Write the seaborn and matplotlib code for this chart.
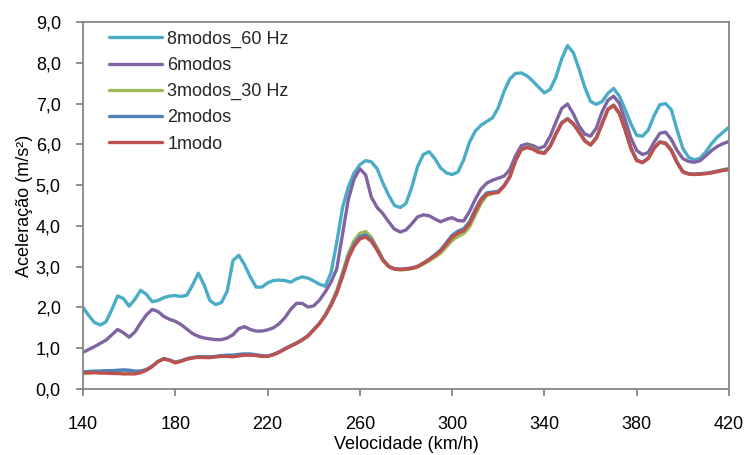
import numpy as np
import pandas as pd
import matplotlib
matplotlib.use("Agg")
import matplotlib.pyplot as plt
import seaborn as sns

# Speed axis (km/h), sampled every 2.5 km/h
speed = np.arange(140.0, 420.01, 2.5)

modos8_60hz = [
    2.00, 1.80, 1.63, 1.57, 1.65, 1.95, 2.28, 2.22, 2.03, 2.20,
    2.42, 2.32, 2.14, 2.17, 2.24, 2.28, 2.29, 2.27, 2.30, 2.55,
    2.84, 2.55, 2.17, 2.07, 2.12, 2.40, 3.15, 3.28, 3.05, 2.75,
    2.50, 2.50, 2.60, 2.66, 2.67, 2.66, 2.62, 2.70, 2.75, 2.72,
    2.65, 2.57, 2.52, 2.85, 3.60, 4.45, 4.95, 5.30, 5.50, 5.60,
    5.57, 5.40, 5.05, 4.75, 4.50, 4.45, 4.55, 4.95, 5.45, 5.75,
    5.82, 5.65, 5.42, 5.30, 5.26, 5.32, 5.62, 6.05, 6.32, 6.47,
    6.56, 6.65, 6.90, 7.30, 7.60, 7.74, 7.75, 7.68, 7.55, 7.40,
    7.26, 7.35, 7.65, 8.10, 8.42, 8.25, 7.85, 7.40, 7.05, 6.98,
    7.05, 7.25, 7.37, 7.18, 6.85, 6.50, 6.22, 6.20, 6.35, 6.70,
    6.97, 7.00, 6.85, 6.35, 5.90, 5.68, 5.62, 5.66, 5.82, 6.02,
    6.18, 6.30, 6.42,
]

modos6 = [
    0.90, 0.97, 1.04, 1.12, 1.20, 1.33, 1.46, 1.38, 1.27, 1.40,
    1.62, 1.82, 1.95, 1.90, 1.78, 1.71, 1.66, 1.58, 1.47, 1.36,
    1.29, 1.25, 1.23, 1.21, 1.21, 1.25, 1.33, 1.48, 1.53, 1.46,
    1.42, 1.42, 1.45, 1.50, 1.60, 1.75, 1.95, 2.10, 2.10, 2.01,
    2.04, 2.18, 2.38, 2.62, 2.95, 3.80, 4.65, 5.15, 5.40, 5.25,
    4.70, 4.45, 4.30, 4.10, 3.92, 3.85, 3.90, 4.05, 4.22, 4.27,
    4.25, 4.17, 4.10, 4.16, 4.20, 4.13, 4.12, 4.35, 4.65, 4.90,
    5.05, 5.12, 5.17, 5.22, 5.38, 5.72, 5.97, 6.01, 5.97, 5.90,
    5.95, 6.20, 6.55, 6.88, 6.99, 6.75, 6.45, 6.25, 6.20, 6.40,
    6.80, 7.08, 7.18, 7.00, 6.60, 6.15, 5.85, 5.75, 5.80, 6.05,
    6.27, 6.30, 6.12, 5.85, 5.65, 5.58, 5.56, 5.60, 5.72, 5.85,
    5.95, 6.02, 6.07,
]

modos3_30hz = [
    0.38, 0.39, 0.41, 0.42, 0.43, 0.44, 0.45, 0.45, 0.44, 0.42,
    0.43, 0.47, 0.56, 0.68, 0.75, 0.71, 0.65, 0.69, 0.74, 0.77,
    0.78, 0.78, 0.78, 0.79, 0.81, 0.81, 0.80, 0.82, 0.84, 0.84,
    0.83, 0.81, 0.80, 0.84, 0.90, 0.98, 1.05, 1.12, 1.20, 1.30,
    1.45, 1.61, 1.82, 2.09, 2.42, 2.86, 3.32, 3.64, 3.82, 3.86,
    3.72, 3.46, 3.18, 3.01, 2.94, 2.92, 2.93, 2.95, 2.99, 3.06,
    3.14, 3.23, 3.33, 3.48, 3.64, 3.74, 3.81, 3.97, 4.26, 4.55,
    4.74, 4.80, 4.84, 4.98, 5.20, 5.60, 5.88, 5.94, 5.90, 5.82,
    5.80, 5.96, 6.26, 6.53, 6.63, 6.51, 6.31, 6.09, 5.99, 6.16,
    6.51, 6.86, 6.96, 6.76, 6.36, 5.91, 5.61, 5.56, 5.66, 5.91,
    6.06, 6.03, 5.86, 5.56, 5.33, 5.28, 5.27, 5.28, 5.29, 5.32,
    5.35, 5.38, 5.41,
]

modos2 = [
    0.42, 0.43, 0.44, 0.44, 0.45, 0.45, 0.46, 0.47, 0.46, 0.44,
    0.44, 0.48, 0.56, 0.67, 0.74, 0.71, 0.66, 0.69, 0.74, 0.77,
    0.79, 0.79, 0.79, 0.80, 0.82, 0.83, 0.83, 0.85, 0.86, 0.86,
    0.84, 0.82, 0.81, 0.85, 0.91, 0.99, 1.06, 1.13, 1.21, 1.31,
    1.46, 1.61, 1.81, 2.07, 2.38, 2.80, 3.25, 3.55, 3.74, 3.78,
    3.66, 3.43, 3.17, 3.01, 2.95, 2.94, 2.95, 2.97, 3.01, 3.09,
    3.18, 3.29, 3.41, 3.59, 3.77, 3.87, 3.93, 4.10, 4.40, 4.66,
    4.81, 4.83, 4.85, 4.99, 5.22, 5.62, 5.88, 5.93, 5.89, 5.81,
    5.79, 5.96, 6.26, 6.53, 6.63, 6.51, 6.31, 6.09, 5.99, 6.16,
    6.51, 6.86, 6.96, 6.76, 6.36, 5.91, 5.61, 5.56, 5.66, 5.91,
    6.06, 6.03, 5.86, 5.56, 5.33, 5.28, 5.27, 5.28, 5.29, 5.31,
    5.34, 5.37, 5.39,
]

modo1 = [
    0.40, 0.40, 0.40, 0.39, 0.39, 0.38, 0.38, 0.37, 0.37, 0.37,
    0.40, 0.46, 0.55, 0.67, 0.74, 0.70, 0.64, 0.68, 0.73, 0.76,
    0.78, 0.77, 0.77, 0.79, 0.80, 0.80, 0.79, 0.81, 0.83, 0.83,
    0.82, 0.80, 0.80, 0.84, 0.90, 0.98, 1.05, 1.12, 1.20, 1.30,
    1.45, 1.60, 1.80, 2.05, 2.35, 2.75, 3.20, 3.50, 3.68, 3.73,
    3.62, 3.40, 3.15, 3.00, 2.94, 2.93, 2.94, 2.96, 3.00, 3.08,
    3.17, 3.27, 3.38, 3.55, 3.72, 3.82, 3.88, 4.05, 4.35, 4.62,
    4.78, 4.80, 4.82, 4.97, 5.20, 5.60, 5.87, 5.92, 5.88, 5.80,
    5.78, 5.95, 6.25, 6.52, 6.62, 6.50, 6.30, 6.08, 5.98, 6.15,
    6.50, 6.85, 6.95, 6.75, 6.35, 5.90, 5.60, 5.55, 5.65, 5.90,
    6.05, 6.02, 5.85, 5.55, 5.32, 5.27, 5.26, 5.27, 5.28, 5.30,
    5.33, 5.36, 5.38,
]

series_names = ["8modos_60 Hz", "6modos", "3modos_30 Hz", "2modos", "1modo"]
series_values = [modos8_60hz, modos6, modos3_30hz, modos2, modo1]
series_colors = ["#4BACC6", "#8064A2", "#9BBB59", "#4F81BD", "#C0504D"]

x_ticks = [140, 180, 220, 260, 300, 340, 380, 420]
y_ticks = [0, 1, 2, 3, 4, 5, 6, 7, 8, 9]
y_tick_labels = ["0,0", "1,0", "2,0", "3,0", "4,0", "5,0", "6,0", "7,0", "8,0", "9,0"]

frames = []
for name, vals in zip(series_names, series_values):
    frames.append(pd.DataFrame({"Velocidade": speed, "Aceleracao": vals, "Serie": name}))
df = pd.concat(frames, ignore_index=True)

sns.set_theme(style="white")
plt.rcParams["font.family"] = ["Liberation Sans", "DejaVu Sans"]

fig = plt.figure(figsize=(7.44, 4.55), dpi=100)
ax = fig.add_axes([83 / 744, 1 - 389 / 455, 646 / 744, 367 / 455])

sns.lineplot(
    data=df, x="Velocidade", y="Aceleracao", hue="Serie",
    hue_order=series_names, palette=series_colors,
    linewidth=2.4, ax=ax, sort=False, estimator=None,
)
for line in ax.get_lines():
    line.set_solid_joinstyle("round")
    line.set_solid_capstyle("round")

ax.set_xlim(140, 420)
ax.set_ylim(0, 9)
ax.set_xticks(x_ticks)
ax.set_xticklabels([str(t) for t in x_ticks])
ax.set_yticks(y_ticks)
ax.set_yticklabels(y_tick_labels)

spine_color = "#868686"
for s in ax.spines.values():
    s.set_visible(True)
    s.set_color(spine_color)
    s.set_linewidth(1.3)

ax.tick_params(axis="both", which="major", direction="out", length=5,
               width=1.3, color=spine_color, labelsize=13, labelcolor="#000000")
ax.tick_params(axis="x", pad=14.5, bottom=True)
ax.tick_params(axis="y", pad=11, left=True)

ax.set_xlabel("Velocidade (km/h)", fontsize=13, color="#000000", labelpad=2)
ax.set_ylabel("Aceleração (m/s²)", fontsize=13, color="#000000", labelpad=2)

ax.legend(
    loc="upper left", bbox_to_anchor=(0.041, 0.977), frameon=False,
    fontsize=13, handlelength=2.9, handletextpad=0.3, labelspacing=0.51,
    borderpad=0.0, borderaxespad=0.0,
)

fig.savefig("out.png", dpi=100, facecolor="white")
